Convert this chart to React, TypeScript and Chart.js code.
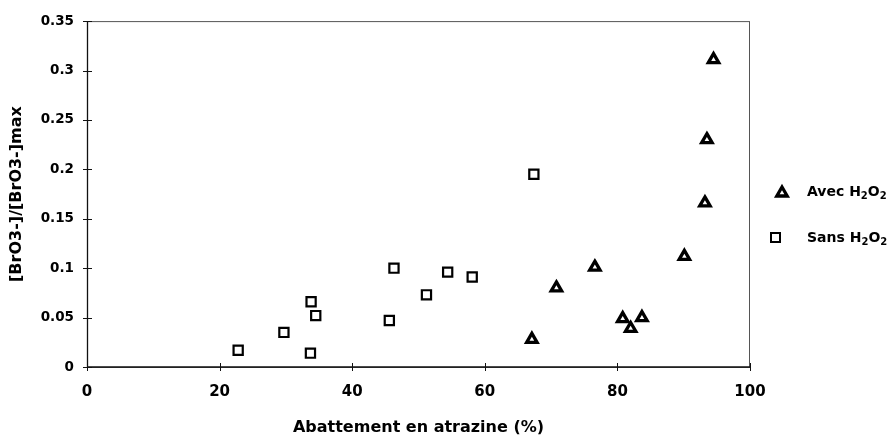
import React, { useEffect, useRef } from "react";
import { Chart, registerables } from "chart.js";

Chart.register(...registerables);

// Avec H2O2 (triangles)
const avecX = [67.1, 70.8, 76.6, 80.8, 82.0, 83.7, 90.1, 93.2, 93.5, 94.5];
const avecY = [0.028, 0.080, 0.101, 0.049, 0.039, 0.050, 0.112, 0.166, 0.230, 0.311];
// Sans H2O2 (squares)
const sansX = [22.8, 29.7, 33.8, 34.5, 33.7, 45.6, 46.3, 51.2, 54.4, 58.1, 67.4];
const sansY = [0.017, 0.035, 0.066, 0.052, 0.014, 0.047, 0.1, 0.073, 0.096, 0.091, 0.195];

const xTicks = [0, 20, 40, 60, 80, 100];
const yTicks = [0, 0.05, 0.1, 0.15, 0.2, 0.25, 0.3, 0.35];
const yTickLabels = ["0", "0.05", "0.1", "0.15", "0.2", "0.25", "0.3", "0.35"];

const xTitle = "Abattement en atrazine (%)";
const yTitle = "[BrO3-]/[BrO3-]max";
const seriesNames = ["Avec H", "Sans H"];

const FONT = '"DejaVu Sans", Verdana, sans-serif';

const framePlugin = {
  id: "frame",
  afterDraw(chart: any) {
    const { ctx, chartArea } = chart;
    const { left, right, top, bottom } = chartArea;
    ctx.save();
    ctx.strokeStyle = "#555";
    ctx.lineWidth = 1;
    ctx.strokeRect(left + 0.5, top + 0.5, right - left - 1, bottom - top);
    ctx.strokeStyle = "#111";
    ctx.lineWidth = 1.3;
    ctx.beginPath();
    ctx.moveTo(left + 0.5, top);
    ctx.lineTo(left + 0.5, bottom);
    ctx.lineTo(right, bottom);
    ctx.stroke();
    // cross ticks
    const xs = chart.scales.x;
    const ys = chart.scales.y;
    ctx.lineWidth = 1;
    ctx.beginPath();
    xTicks.forEach((v) => {
      const px = Math.round(xs.getPixelForValue(v)) + 0.5;
      ctx.moveTo(px, bottom - 4);
      ctx.lineTo(px, bottom + 4);
    });
    yTicks.forEach((v) => {
      const py = Math.round(ys.getPixelForValue(v)) + 0.5;
      ctx.moveTo(left - 4, py);
      ctx.lineTo(left + 5, py);
    });
    ctx.stroke();

    // legend
    const items = [
      { name: seriesNames[0], cx: 782, y: 193, base: 196, shape: "tri" },
      { name: seriesNames[1], cx: 775.5, y: 237.5, base: 242, shape: "rect" },
    ];
    items.forEach((it) => {
      const cx = it.cx;
      ctx.strokeStyle = "#000";
      ctx.fillStyle = "#fff";
      if (it.shape === "tri") {
        ctx.lineWidth = 3.3;
        const r = 6;
        ctx.beginPath();
        ctx.moveTo(cx, it.y - r);
        ctx.lineTo(cx + r * 0.866, it.y + r * 0.5);
        ctx.lineTo(cx - r * 0.866, it.y + r * 0.5);
        ctx.closePath();
        ctx.fill();
        ctx.stroke();
      } else {
        ctx.lineWidth = 2;
        ctx.beginPath();
        ctx.rect(cx - 4.5, it.y - 4.5, 9, 9);
        ctx.fill();
        ctx.stroke();
      }
      ctx.fillStyle = "#000";
      ctx.textBaseline = "alphabetic";
      ctx.textAlign = "left";
      let x = 807;
      const base = it.base;
      ctx.font = `bold 14px ${FONT}`;
      ctx.fillText(it.name, x, base);
      x += ctx.measureText(it.name).width;
      ctx.font = `bold 10px ${FONT}`;
      ctx.fillText("2", x, base + 3);
      x += ctx.measureText("2").width;
      ctx.font = `bold 14px ${FONT}`;
      ctx.fillText("O", x, base);
      x += ctx.measureText("O").width;
      ctx.font = `bold 10px ${FONT}`;
      ctx.fillText("2", x, base + 3);
    });
    ctx.restore();
  },
};

function ScatterChart() {
  const ref = useRef<HTMLCanvasElement | null>(null);
  useEffect(() => {
    if (!ref.current) return;
    const chart = new Chart(ref.current, {
      type: "scatter",
      data: {
        datasets: [
          {
            label: "Avec H2O2",
            data: avecX.map((x, i) => ({ x, y: avecY[i] })),
            pointStyle: "triangle",
            pointRadius: 6,
            pointHoverRadius: 6,
            backgroundColor: "#fff",
            borderColor: "#000",
            borderWidth: 3.3,
          },
          {
            label: "Sans H2O2",
            data: sansX.map((x, i) => ({ x, y: sansY[i] })),
            pointStyle: "rect",
            pointRadius: 6.5,
            pointHoverRadius: 6.5,
            backgroundColor: "#fff",
            borderColor: "#000",
            borderWidth: 2.2,
          },
        ],
      },
      options: {
        animation: false,
        responsive: false,
        maintainAspectRatio: false,
        layout: { padding: { top: 20, right: 144, left: 0, bottom: 0 } },
        plugins: { legend: { display: false }, tooltip: { enabled: false } },
        scales: {
          x: {
            type: "linear",
            min: 0,
            max: 100,
            afterBuildTicks: (s: any) => {
              s.ticks = xTicks.map((v) => ({ value: v }));
            },
            afterFit: (s: any) => {
              s.height = 72;
            },
            grid: { display: false, drawTicks: false },
            border: { display: false },
            ticks: {
              padding: 16,
              color: "#000",
              font: { family: FONT, size: 15, weight: "bold" },
              maxRotation: 0,
            },
            title: {
              display: true,
              text: xTitle,
              color: "#000",
              font: { family: FONT, size: 16, weight: "bold" },
              padding: { top: 2, bottom: 2 },
            },
          },
          y: {
            type: "linear",
            min: 0,
            max: 0.35,
            afterBuildTicks: (s: any) => {
              s.ticks = yTicks.map((v) => ({ value: v }));
            },
            afterFit: (s: any) => {
              s.width = 87;
            },
            grid: { display: false, drawTicks: false },
            border: { display: false },
            ticks: {
              padding: 13,
              color: "#000",
              font: { family: FONT, size: 13.5, weight: "bold" },
              callback: (_v: any, i: number) => yTickLabels[i],
            },
            title: {
              display: true,
              text: yTitle,
              color: "#000",
              font: { family: FONT, size: 16, weight: "bold" },
              padding: { top: 7, bottom: 7 },
            },
          },
        },
      },
      plugins: [framePlugin],
    });
    return () => chart.destroy();
  }, []);
  return <canvas ref={ref} width={894} height={439} style={{ display: "block" }} />;
}

export default function App() {
  return (
    <div style={{ position: "fixed", left: 0, top: 0, width: 894, height: 439, background: "#fff" }}>
      <ScatterChart />
    </div>
  );
}
